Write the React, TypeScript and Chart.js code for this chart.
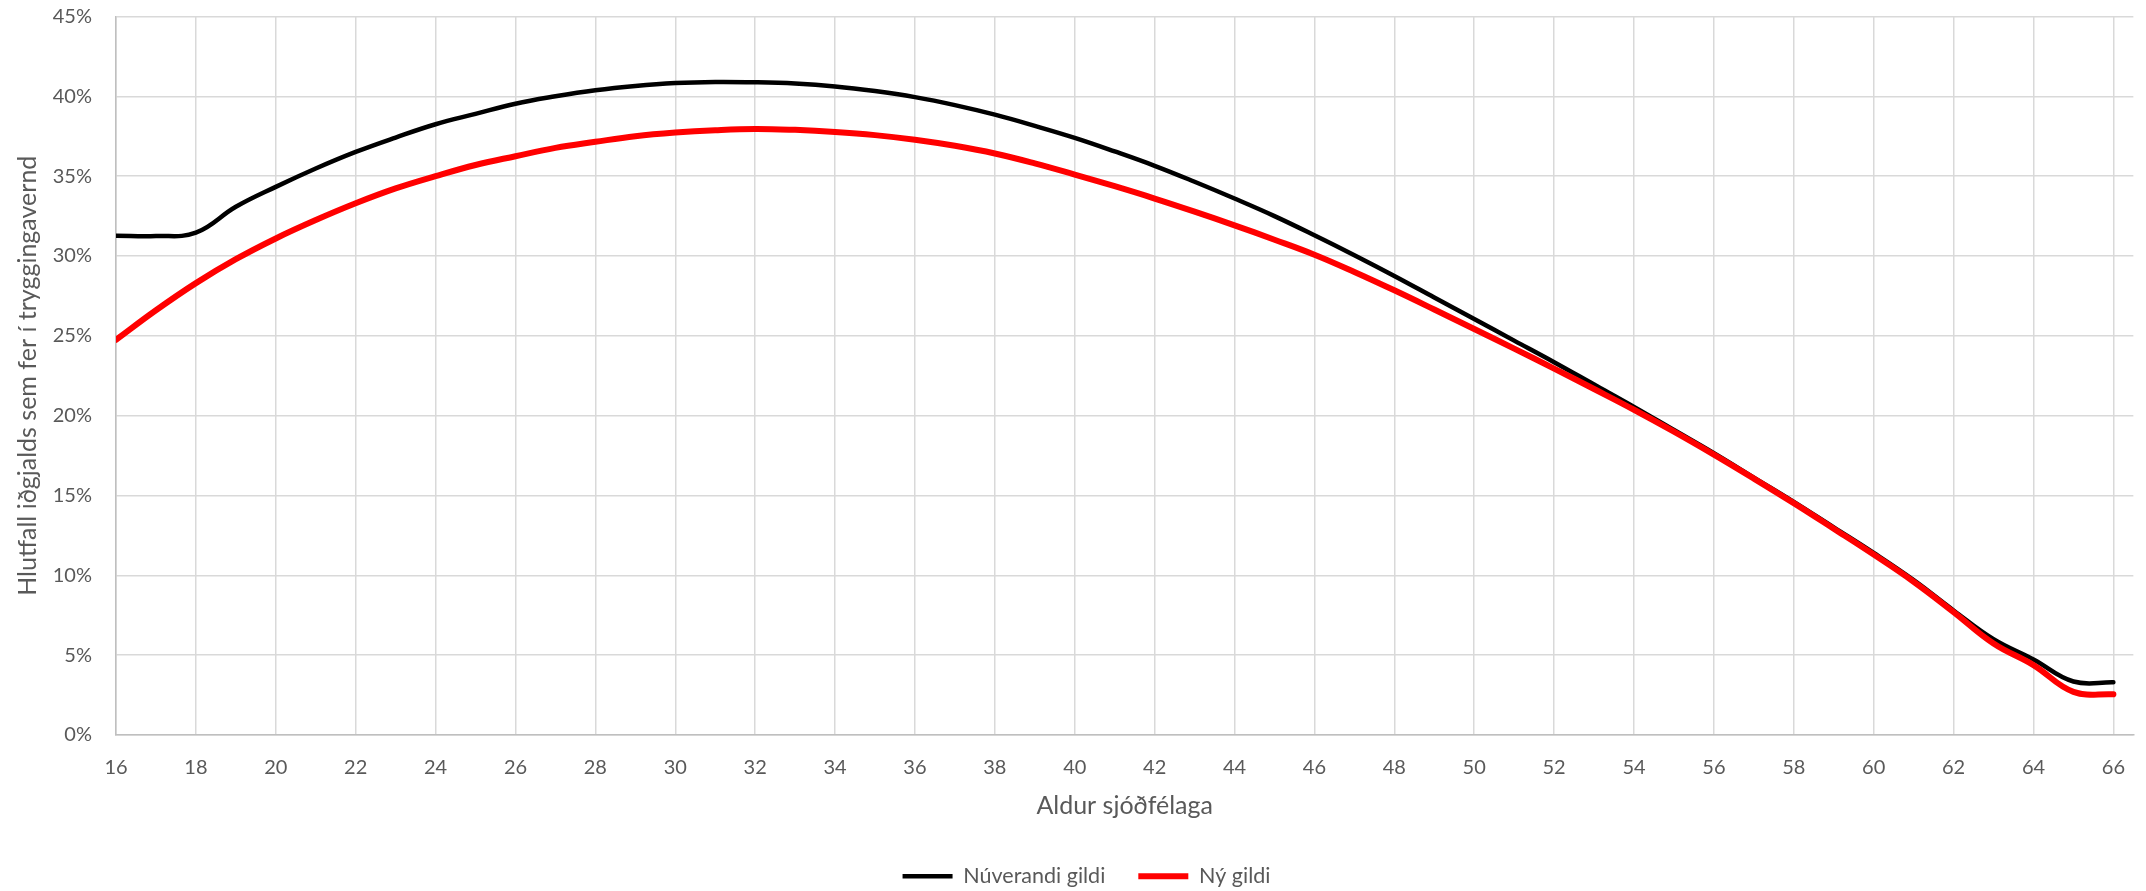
import React, { useEffect, useRef } from "react";
import { Chart, registerables } from "chart.js";

Chart.register(...registerables);

const ages = [
  16, 17, 18, 19, 20, 21, 22, 23, 24, 25, 26, 27, 28, 29, 30, 31, 32, 33, 34, 35,
  36, 37, 38, 39, 40, 41, 42, 43, 44, 45, 46, 47, 48, 49, 50, 51, 52, 53, 54, 55,
  56, 57, 58, 59, 60, 61, 62, 63, 64, 65, 66,
];

const currentValues = [
  31.27, 31.25, 31.46, 33.08, 34.33, 35.48, 36.52, 37.42, 38.25, 38.9, 39.54, 40.0,
  40.38, 40.65, 40.83, 40.9, 40.88, 40.8, 40.62, 40.33, 39.95, 39.45, 38.85, 38.15,
  37.4, 36.55, 35.65, 34.65, 33.6, 32.5, 31.3, 30.05, 28.75, 27.4, 26.05, 24.7, 23.35,
  21.95, 20.55, 19.1, 17.65, 16.12, 14.6, 13.0, 11.4, 9.7, 7.8, 6.0, 4.73, 3.35, 3.3,
];

const newValues = [
  24.75, 26.6, 28.3, 29.8, 31.1, 32.25, 33.3, 34.23, 35.0, 35.7, 36.25, 36.77, 37.15,
  37.5, 37.73, 37.88, 37.96, 37.9, 37.77, 37.57, 37.28, 36.9, 36.42, 35.8, 35.1, 34.37,
  33.6, 32.78, 31.92, 31.02, 30.08, 29.0, 27.85, 26.65, 25.43, 24.2, 22.95, 21.67,
  20.37, 19.0, 17.56, 16.06, 14.52, 12.92, 11.3, 9.6, 7.7, 5.73, 4.38, 2.7, 2.55,
];

const seriesLabels = ["Núverandi gildi", "Ný gildi"];
const xAxisTitle = "Aldur sjóðfélaga";
const yAxisTitle = "Hlutfall iðgjalds sem fer í tryggingavernd";

const FONT = "Lato";
const TEXT = "#595959";

const yTitlePlugin = {
  id: "yTitleCustom",
  afterDraw(chart: any) {
    const { ctx, chartArea } = chart;
    ctx.save();
    ctx.font = `25px ${FONT}`;
    ctx.fillStyle = TEXT;
    ctx.textAlign = "center";
    ctx.textBaseline = "middle";
    ctx.translate(28, (chartArea.top + chartArea.bottom) / 2);
    ctx.rotate(-Math.PI / 2);
    ctx.fillText(yAxisTitle, 0, 0);
    ctx.restore();
  },
};

export default function App() {
  const canvasRef = useRef<HTMLCanvasElement | null>(null);

  useEffect(() => {
    if (!canvasRef.current) return;
    const chart = new Chart(canvasRef.current, {
      type: "line",
      data: {
        datasets: [
          {
            label: seriesLabels[0],
            data: ages.map((a, i) => ({ x: a, y: currentValues[i] })),
            borderColor: "#000000",
            backgroundColor: "#000000",
            borderWidth: 4.5,
            pointRadius: 0,
            tension: 0.4,
            borderCapStyle: "round",
            order: 1,
          },
          {
            label: seriesLabels[1],
            data: ages.map((a, i) => ({ x: a, y: newValues[i] })),
            borderColor: "#ff0000",
            backgroundColor: "#ff0000",
            borderWidth: 6,
            pointRadius: 0,
            tension: 0.4,
            borderCapStyle: "round",
            order: 0,
          },
        ],
      },
      options: {
        animation: false,
        responsive: true,
        maintainAspectRatio: false,
        layout: { padding: { left: 29, top: 16.5, right: 2, bottom: -6 } },
        plugins: {
          tooltip: { enabled: false },
          legend: {
            position: "bottom",
            labels: {
              usePointStyle: true,
              pointStyle: "line",
              pointStyleWidth: 50,
              padding: 33,
              color: TEXT,
              font: { family: FONT, size: 21.5 },
              sort: (a: any, b: any) => a.datasetIndex - b.datasetIndex,
            },
          },
        },
        scales: {
          x: {
            type: "linear",
            min: 16,
            max: 66.5,
            bounds: "data",
            afterFit: (scale: any) => {
              scale.height = 97.5;
            },
            ticks: {
              stepSize: 2,
              includeBounds: false,
              color: TEXT,
              font: { family: FONT, size: 20 },
              padding: 21,
              maxRotation: 0,
            },
            grid: { color: "#d9d9d9", lineWidth: 1.5, drawTicks: false },
            border: { color: "#bfbfbf", width: 1.5 },
            title: {
              display: true,
              text: xAxisTitle,
              color: TEXT,
              font: { family: FONT, size: 25 },
              padding: { top: 0, bottom: 11.5 },
            },
          },
          y: {
            min: 0,
            max: 45,
            afterFit: (scale: any) => {
              scale.width = 87;
              scale.paddingTop = 0;
              scale.paddingBottom = 0;
            },
            ticks: {
              stepSize: 5,
              color: TEXT,
              font: { family: FONT, size: 20 },
              padding: 24,
              callback: (v: any) => `${v}%`,
            },
            grid: { color: "#d9d9d9", lineWidth: 1.5, drawTicks: false },
            border: { color: "#bfbfbf", width: 1.5 },
          },
        },
      },
      plugins: [yTitlePlugin],
    });
    return () => chart.destroy();
  }, []);

  return (
    <div style={{ position: "absolute", left: 0, top: 0, width: 2146, height: 891 }}>
      <canvas ref={canvasRef} />
    </div>
  );
}
